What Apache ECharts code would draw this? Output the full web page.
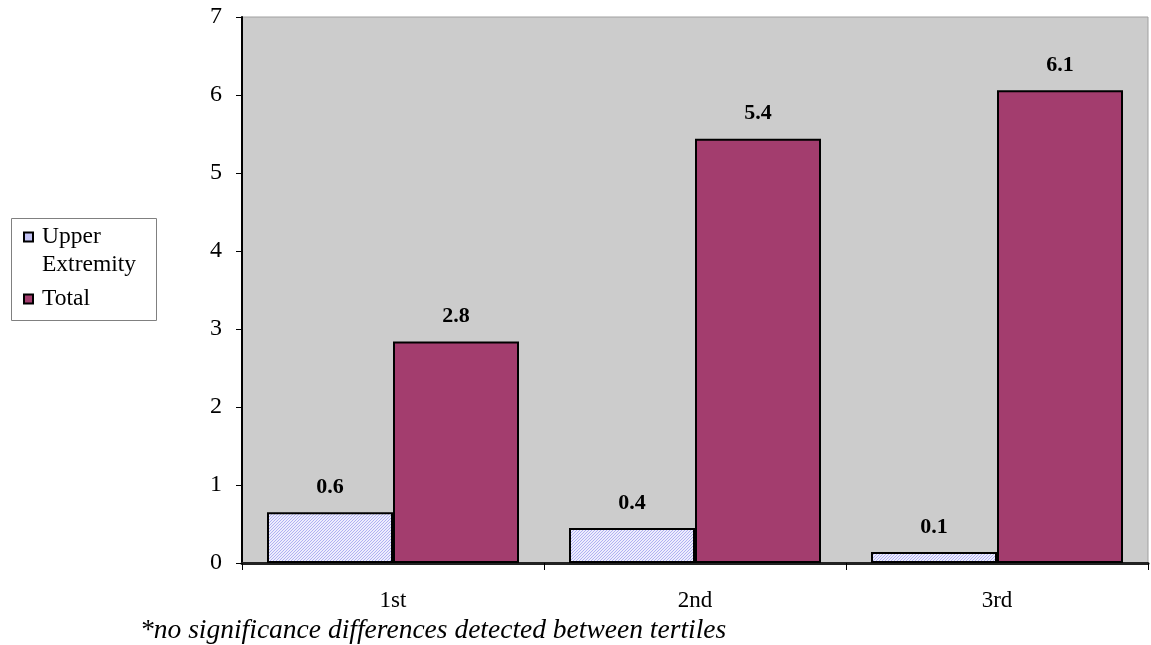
<!DOCTYPE html>
<html>
<head>
<meta charset="utf-8">
<script src="https://cdn.jsdelivr.net/npm/echarts@6/dist/echarts.min.js"></script>
<style>html,body{margin:0;padding:0;background:#fff}#c{width:1151px;height:645px}</style>
</head>
<body>
<div id="c"></div>
<script>
const categories = ['1st', '2nd', '3rd'];
const upperValues = [0.65, 0.45, 0.14];
const upperLabels = ['0.6', '0.4', '0.1'];
const totalValues = [2.84, 5.44, 6.06];
const totalLabels = ['2.8', '5.4', '6.1'];
const seriesNames = ['Upper Extremity', 'Total'];
const footnote = '*no significance differences detected between tertiles';

function makePattern() {
  const c = document.createElement('canvas');
  c.width = 3; c.height = 3;
  const ctx = c.getContext('2d');
  ctx.fillStyle = '#ededfd';
  ctx.fillRect(0, 0, 3, 3);
  ctx.fillStyle = '#b0b0f2';
  for (let i = 0; i < 3; i++) ctx.fillRect(2 - i, i, 1, 1);
  return c;
}
const pattern = makePattern();

const chart = echarts.init(document.getElementById('c'));
const serif = '"Liberation Serif", "Times New Roman", serif';
const labelStyle = {show: true, position: 'top', distance: 14, fontFamily: serif, fontWeight: 'bold', fontSize: 22, color: '#000'};

chart.setOption({
  animation: false,
  grid: {left: 242, right: 3, top: 17, bottom: 82, show: true, backgroundColor: '#cccccc', borderColor: '#a0a0a0', borderWidth: 1},
  legend: {
    orient: 'vertical', left: 23, top: 195, padding: 0, itemWidth: 9, itemHeight: 9, itemGap: 6,
    icon: 'rect',
    formatter: n => n.indexOf(' ') >= 0
      ? '{a| }\n' + n.split(' ').map(w => '{a|' + w + '}').join('\n')
      : '{a|' + n + '}',
    textStyle: {
      fontFamily: serif, fontSize: 23.5, color: '#000', lineHeight: 28,
      rich: {a: {fontFamily: serif, fontSize: 23.5, color: '#000', lineHeight: 28, padding: [0, 0, 0, 4]}}
    },
    data: [
      {name: seriesNames[0], itemStyle: {color: '#c4c4f6', borderColor: '#000', borderWidth: 2}},
      {name: seriesNames[1], itemStyle: {color: '#a33d6e', borderColor: '#000', borderWidth: 2}}
    ]
  },
  graphic: [
    {type: 'rect', left: 9, top: 216, shape: {width: 145, height: 102}, style: {fill: 'none', stroke: '#808080', lineWidth: 1}, z: -1},
    {type: 'text', left: 140, top: 617, style: {text: footnote, font: 'italic 27.5px ' + serif, fill: '#000'}}
  ],
  xAxis: {
    type: 'category', data: categories,
    axisLine: {lineStyle: {color: '#222', width: 3}},
    axisTick: {show: true, length: 7, inside: false, lineStyle: {color: '#000'}},
    axisLabel: {fontFamily: serif, fontSize: 23, color: '#000', margin: 26},
    splitLine: {show: false}
  },
  yAxis: {
    type: 'value', min: 0, max: 7, interval: 1,
    axisLine: {show: true, lineStyle: {color: '#000', width: 2}},
    axisTick: {show: true, length: 6, lineStyle: {color: '#000'}},
    axisLabel: {fontFamily: serif, fontSize: 24, color: '#000', margin: 20},
    splitLine: {show: false}
  },
  series: [
    {
      name: seriesNames[0], type: 'bar', barWidth: 126, barGap: '0%',
      data: upperValues,
      itemStyle: {color: {image: pattern, repeat: 'repeat'}, borderColor: '#000', borderWidth: 2},
      label: Object.assign({}, labelStyle, {formatter: p => upperLabels[p.dataIndex]})
    },
    {
      name: seriesNames[1], type: 'bar', barWidth: 126, barGap: '0%',
      data: totalValues,
      itemStyle: {color: '#a33d6e', borderColor: '#000', borderWidth: 2},
      label: Object.assign({}, labelStyle, {formatter: p => totalLabels[p.dataIndex]})
    }
  ]
});
</script>
</body>
</html>
